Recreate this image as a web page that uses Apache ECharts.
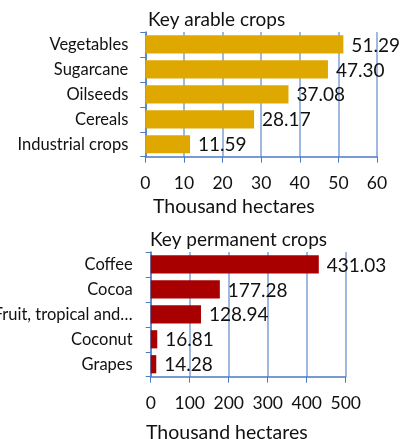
<!DOCTYPE html>
<html>
<head>
<meta charset="utf-8">
<script src="https://cdn.jsdelivr.net/npm/echarts@6/dist/echarts.min.js"></script>
<style>
  html, body { margin: 0; padding: 0; background: #fff; }
  #chart { width: 401px; height: 439px; }
</style>
</head>
<body>
<div id="chart"></div>
<script>
// Harvested area of the main crops, thousand hectares
const arableCrops = ['Vegetables', 'Sugarcane', 'Oilseeds', 'Cereals', 'Industrial crops'];
const arableArea = [51.29, 47.30, 37.08, 28.17, 11.59];
const arableTicks = [0, 10, 20, 30, 40, 50, 60];

const permanentCrops = ['Coffee', 'Cocoa', 'Fruit, tropical and subtropical', 'Coconut', 'Grapes'];
const permanentArea = [431.03, 177.28, 128.94, 16.81, 14.28];
const permanentTicks = [0, 100, 200, 300, 400, 500];

const FONT = 'Lato';
const AXIS_BLUE = '#4a7bc4';
const GRID_BLUE = '#7fa2d6';

function valueAxis(gridIndex, ticks) {
  return {
    type: 'value',
    gridIndex: gridIndex,
    min: ticks[0],
    max: ticks[ticks.length - 1],
    interval: ticks[1] - ticks[0],
    axisLine: { show: true, lineStyle: { color: AXIS_BLUE, width: 1.5 } },
    axisTick: { show: true, length: 6, lineStyle: { color: AXIS_BLUE, width: 1 } },
    splitLine: { show: true, lineStyle: { color: GRID_BLUE, width: 1.5 } },
    axisLabel: { color: '#111', fontFamily: FONT, fontSize: 17.5, margin: 18 }
  };
}

function categoryAxis(gridIndex, cats, margin) {
  return {
    type: 'category',
    gridIndex: gridIndex,
    data: cats,
    inverse: true,
    axisLine: { show: true, lineStyle: { color: AXIS_BLUE, width: 1.5 } },
    axisTick: { show: true, length: 5, lineStyle: { color: AXIS_BLUE, width: 1 } },
    axisLabel: {
      color: '#111', fontFamily: FONT, fontSize: 16.5, margin: margin,
      width: 144, overflow: 'truncate', ellipsis: '…'
    }
  };
}

function barSeries(index, values, color) {
  return {
    type: 'bar',
    xAxisIndex: index,
    yAxisIndex: index,
    data: values,
    barWidth: '73%',
    itemStyle: { color: color },
    label: {
      show: true,
      position: 'right',
      distance: 8,
      color: '#111',
      fontFamily: FONT,
      fontSize: 19,
      offset: [0, 1],
      formatter: p => p.value.toFixed(2)
    },
    animation: false
  };
}

const titleStyle = { fontFamily: FONT, fontSize: 19, fontWeight: 'normal', color: '#111' };
const nameStyle = { fontFamily: FONT, fontSize: 19.5, fontWeight: 'normal', color: '#111' };

const chart = echarts.init(document.getElementById('chart'), null, { renderer: 'canvas' });
chart.setOption({
  animation: false,
  title: [
    { text: 'Key arable crops', left: 143, top: 5, textStyle: titleStyle },
    { text: 'Thousand hectares', left: 148, top: 192, textStyle: nameStyle },
    { text: 'Key permanent crops', left: 145, top: 225, textStyle: titleStyle },
    { text: 'Thousand hectares', left: 141, top: 418, textStyle: nameStyle }
  ],
  grid: [
    { left: 145.3, right: 24, top: 32, height: 124.7, containLabel: false, outerBoundsMode: 'none' },
    { left: 150.7, right: 55.3, top: 252, height: 124.7, containLabel: false, outerBoundsMode: 'none' }
  ],
  xAxis: [valueAxis(0, arableTicks), valueAxis(1, permanentTicks)],
  yAxis: [categoryAxis(0, arableCrops, 17), categoryAxis(1, permanentCrops, 18)],
  series: [
    barSeries(0, arableArea, '#dfa800'),
    barSeries(1, permanentArea, '#a80000')
  ]
});
</script>
</body>
</html>
